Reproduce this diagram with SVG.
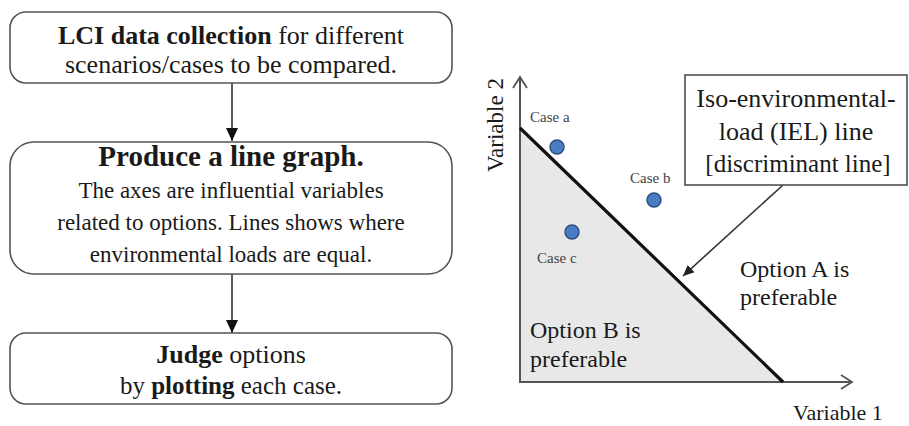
<svg xmlns="http://www.w3.org/2000/svg" width="909" height="426" viewBox="0 0 909 426">
<defs>
<style>
text{font-family:"Liberation Serif","Times New Roman",serif;fill:#1a1a1a}
.box{fill:#fff;stroke:#555;stroke-width:1.6}
.c{text-anchor:middle}
.b{font-weight:bold}
.conn{stroke:#333;stroke-width:1.6;fill:none}
.axis{stroke:#555;stroke-width:2;fill:none}
.dot{fill:#4a7cc4;stroke:#2c4f80;stroke-width:1.5}
.lbl{font-size:15px;fill:#444}
</style>
<marker id="tri" markerWidth="14" markerHeight="12" refX="13" refY="6" orient="auto" markerUnits="userSpaceOnUse">
<path d="M0,0 L13,6 L0,12 Z" fill="#111"/>
</marker>
<marker id="small" markerWidth="12" markerHeight="10" refX="11" refY="5" orient="auto" markerUnits="userSpaceOnUse">
<path d="M0,0 L11,5 L0,10 Z" fill="#222"/>
</marker>
<marker id="open" markerWidth="14" markerHeight="16" refX="12" refY="8" orient="auto" markerUnits="userSpaceOnUse">
<path d="M1,1 L12,8 L1,15" fill="none" stroke="#555" stroke-width="1.8"/>
</marker>
</defs>

<g id="connectors">
<line class="conn" x1="232" y1="83" x2="232" y2="141" marker-end="url(#tri)"/>
<line class="conn" x1="232" y1="274" x2="232" y2="333" marker-end="url(#tri)"/>
</g>

<g id="node-lci">
<rect class="box" x="10" y="12" width="442" height="71" rx="16"/>
<text class="c" x="231" y="44" font-size="26"><tspan class="b">LCI data collection</tspan> for different</text>
<text class="c" x="231" y="73" font-size="26">scenarios/cases to be compared.</text>
</g>

<g id="node-graph">
<rect class="box" x="10" y="142" width="442" height="132" rx="24"/>
<text class="c b" x="231" y="166" font-size="29">Produce a line graph.</text>
<text class="c" x="231" y="198" font-size="23">The axes are influential variables</text>
<text class="c" x="231" y="230" font-size="23">related to options. Lines shows where</text>
<text class="c" x="231" y="262" font-size="23">environmental loads are equal.</text>
</g>

<g id="node-judge">
<rect class="box" x="10" y="333" width="442" height="71" rx="16"/>
<text class="c" x="231" y="363" font-size="26"><tspan class="b">Judge</tspan> options</text>
<text class="c" x="231" y="394" font-size="25">by <tspan class="b">plotting</tspan> each case.</text>
</g>

<g id="chart">
<polygon points="520,128 520,382 783,382" fill="#e8e8e8"/>
<line class="axis" x1="520" y1="383" x2="520" y2="77" marker-end="url(#open)"/>
<line class="axis" x1="519" y1="382" x2="852" y2="382" marker-end="url(#open)"/>
<line x1="520" y1="128" x2="783" y2="382" stroke="#111" stroke-width="3.2"/>
<text x="503" y="125" font-size="23" class="c" transform="rotate(-90 503 125)">Variable 2</text>
<text x="793" y="420" font-size="22">Variable 1</text>
<circle class="dot" cx="557" cy="147" r="7"/>
<circle class="dot" cx="654" cy="200" r="7"/>
<circle class="dot" cx="572" cy="232" r="7"/>
<text class="lbl" x="530" y="122">Case a</text>
<text class="lbl" x="630" y="183">Case b</text>
<text class="lbl" x="537" y="263">Case c</text>
<text x="740" y="277" font-size="24">Option A is</text>
<text x="740" y="305" font-size="24">preferable</text>
<text x="530" y="338" font-size="24">Option B is</text>
<text x="530" y="367" font-size="24">preferable</text>
</g>

<g id="callout">
<line class="conn" x1="783" y1="185" x2="683" y2="276" marker-end="url(#small)" stroke-width="1.4"/>
<rect x="685" y="75" width="222" height="110" fill="#fff" stroke="#444" stroke-width="1.5"/>
<text class="c" x="796" y="107" font-size="26">Iso-environmental-</text>
<text class="c" x="796" y="140" font-size="26">load (IEL) line</text>
<text class="c" x="798" y="172" font-size="25">[discriminant line]</text>
</g>
</svg>
